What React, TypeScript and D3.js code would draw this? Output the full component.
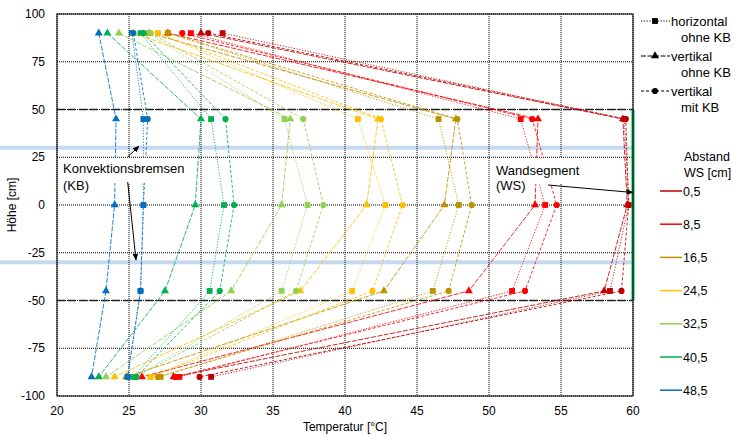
import React from 'react';
import * as d3 from 'd3';

const heights = [90, 45, 0, -45, -90];
const distances = ['0,5', '8,5', '16,5', '24,5', '32,5', '40,5', '48,5'];
const colors = ['#C00000', '#FF0000', '#BF9000', '#FFC000', '#92D050', '#00B050', '#0070C0'];

// horizontal ohne KB (squares), values per height 90,45,0,-45,-90
const horizontalOhneKB = [
  [31.5, 59.4, 59.7, 58.4, 30.7],
  [29.3, 52.2, 53.9, 51.6, 28.5],
  [27.7, 46.5, 47.9, 46.1, 27.2],
  [27.0, 40.9, 42.8, 40.5, 26.5],
  [26.3, 35.8, 37.4, 35.6, 25.4],
  [25.8, 30.7, 31.6, 30.6, 25.3],
  [25.2, 26.0, 26.0, 25.8, 24.9],
];
// vertikal ohne KB (triangles)
const vertikalOhneKB = [
  [30.0, 59.3, 59.6, 58.0, 28.1],
  [27.7, 53.4, 53.2, 48.6, 25.9],
  [26.4, 47.7, 46.9, 42.7, 24.8],
  [25.3, 42.3, 41.5, 36.9, 24.0],
  [24.3, 36.2, 35.6, 32.1, 23.4],
  [23.5, 30.0, 29.6, 27.5, 22.9],
  [22.9, 24.1, 24.0, 23.4, 22.4],
];
// vertikal mit KB (circles)
const vertikalMitKB = [
  [30.5, 59.5, 59.7, 59.2, 29.9],
  [28.7, 53.0, 54.7, 52.5, 28.2],
  [27.7, 47.8, 48.8, 47.2, 27.0],
  [27.0, 42.5, 44.0, 41.9, 26.5],
  [26.5, 37.1, 38.5, 36.6, 25.5],
  [26.0, 31.7, 32.3, 31.3, 25.5],
  [25.3, 26.3, 26.0, 25.8, 24.9],
];

const xTicks = [20, 25, 30, 35, 40, 45, 50, 55, 60];
const yTicks = [100, 75, 50, 25, 0, -25, -50, -75, -100];
const wallLimits = [50, -50];
const brakeHeights = [30, -30];
const styleNames = [['horizontal', 'ohne KB'], ['vertikal', 'ohne KB'], ['vertikal', 'mit KB']];

const FONT = '"Liberation Sans", Arial, sans-serif';

export default function App() {
  const W = 741, H = 436;
  const x = d3.scaleLinear().domain([20, 60]).range([57, 633]);
  const y = d3.scaleLinear().domain([-100, 100]).range([396, 14]);
  const line = d3.line<number>().x((d) => x(d)).y((_d, i) => y(heights[i]));

  const configs = [
    { data: horizontalOhneKB, dash: '1.2,1.6', sym: d3.symbolSquare, size: 34 },
    { data: vertikalOhneKB, dash: '5,1.5', sym: d3.symbolTriangle, size: 28 },
    { data: vertikalMitKB, dash: '3,2', sym: d3.symbolCircle, size: 30 },
  ];

  const [x0, x1] = x.range();
  const [yb, yt] = y.range();

  return (
    <svg width={W} height={H} style={{ position: 'absolute', left: 0, top: 0, background: '#fff' }} fontFamily={FONT}>
      <defs>
        <marker id="arr" viewBox="0 0 10 10" refX="9" refY="5" markerWidth="7" markerHeight="7" orient="auto-start-reverse" markerUnits="userSpaceOnUse">
          <path d="M0,1 L10,5 L0,9 z" fill="#000" />
        </marker>
      </defs>
      <rect x={0} y={0} width={W} height={H} fill="#fff" />
      {/* brake bands */}
      {brakeHeights.map((b) => (
        <rect key={b} x={0} y={y(b) - 2} width={x1} height={4} fill="#C5D9F1" />
      ))}
      {/* gridlines */}
      {xTicks.map((t) => (
        <line key={'gx' + t} x1={x(t)} x2={x(t)} y1={yt} y2={yb} stroke="#000" strokeWidth={1} strokeDasharray="1,1" />
      ))}
      {yTicks.map((t) => (
        <line key={'gy' + t} x1={x0} x2={x1} y1={y(t)} y2={y(t)} stroke="#000" strokeWidth={1} strokeDasharray="1,1" />
      ))}
      {wallLimits.map((w) => (
        <line key={'w' + w} x1={x0} x2={x1} y1={y(w)} y2={y(w)} stroke="#222" strokeWidth={1.5} strokeDasharray="8,3" />
      ))}
      {/* series */}
      {configs.map((c, ci) =>
        c.data.map((vals, si) => (
          <g key={ci + '-' + si}>
            <path d={line(vals) || ''} fill="none" stroke={colors[si]} strokeWidth={1} strokeDasharray={c.dash} strokeOpacity={0.85} />
            {vals.map((v, i) => (
              <path key={i} transform={`translate(${x(v)},${y(heights[i])})`} d={d3.symbol().type(c.sym).size(c.size)() || ''} fill={colors[si]} />
            ))}
          </g>
        ))
      )}
      {/* wall segment */}
      <line x1={x(60)} x2={x(60)} y1={y(50)} y2={y(-50)} stroke="#00B050" strokeWidth={3} />
      {/* frame */}
      <rect x={x0} y={yt} width={x1 - x0} height={yb - yt} fill="none" stroke="#000" strokeWidth={1} />
      {/* axis labels */}
      {xTicks.map((t) => (
        <text key={'xl' + t} x={x(t)} y={yb + 19} textAnchor="middle" fontSize={12}>{t}</text>
      ))}
      {yTicks.map((t) => (
        <text key={'yl' + t} x={45} y={y(t) + 4} textAnchor="end" fontSize={12}>{t}</text>
      ))}
      <text x={345} y={431} textAnchor="middle" fontSize={12}>Temperatur [°C]</text>
      <text transform={`translate(16,${y(0)}) rotate(-90)`} textAnchor="middle" fontSize={12}>Höhe [cm]</text>
      {/* annotations */}
      <rect x={62} y={158} width={130} height={25} fill="#fff" />
      <text x={63} y={173} fontSize={13}>Konvektionsbremsen</text>
      <text x={63} y={190} fontSize={13}>(KB)</text>
      <line x1={127.7} y1={157} x2={139} y2={146} stroke="#000" strokeWidth={1} markerEnd="url(#arr)" />
      <line x1={127.7} y1={182} x2={136} y2={260} stroke="#000" strokeWidth={1} markerEnd="url(#arr)" />
      <rect x={493} y={158} width={92} height={26} fill="#fff" />
      <text x={496} y={175} fontSize={13}>Wandsegment</text>
      <text x={496} y={190} fontSize={13}>(WS)</text>
      <line x1={548} y1={185} x2={633} y2={192.5} stroke="#000" strokeWidth={1} markerEnd="url(#arr)" />
      {/* style legend */}
      {configs.map((c, i) => {
        const ly = 21 + i * 35;
        return (
          <g key={'sl' + i}>
            <line x1={641} x2={670} y1={ly} y2={ly} stroke="#000" strokeWidth={1} strokeDasharray={c.dash} />
            <path transform={`translate(655,${ly})`} d={d3.symbol().type(c.sym).size(c.size)() || ''} fill="#000" />
            <text x={671} y={ly + 4.5} fontSize={13}>{styleNames[i][0]}</text>
            <text x={681} y={ly + 21} fontSize={13}>{styleNames[i][1]}</text>
          </g>
        );
      })}
      {/* distance legend */}
      <text x={684} y={161} fontSize={12.5}>Abstand</text>
      <text x={684} y={177} fontSize={12.5}>WS [cm]</text>
      {distances.map((d, i) => {
        const ly = 191 + i * 33.2;
        return (
          <g key={'dl' + i}>
            <line x1={660} x2={682} y1={ly} y2={ly} stroke={colors[i]} strokeWidth={1.5} />
            <text x={683} y={ly + 4.5} fontSize={12.5}>{d}</text>
          </g>
        );
      })}
    </svg>
  );
}
